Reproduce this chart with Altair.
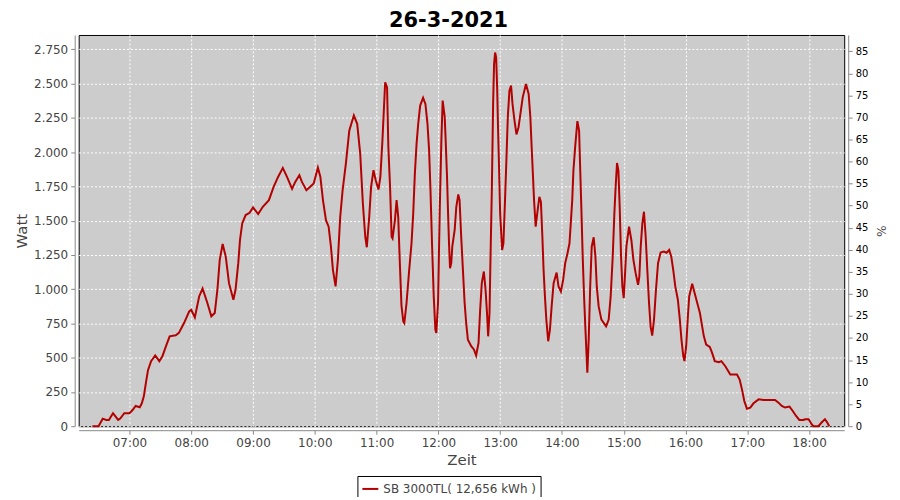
import altair as alt
import pandas as pd

series_name = "SB 3000TL( 12,656 kWh )"
chart_title = "26-3-2021"

times = [
    "06:24:00", "06:30:00", "06:34:00", "06:37:30", "06:40:00", "06:44:00", "06:46:00", "06:49:00",
    "06:51:00", "06:55:00", "07:00:00", "07:03:00", "07:06:00", "07:10:00", "07:12:00", "07:14:00",
    "07:16:00", "07:18:00", "07:21:00", "07:25:00", "07:29:00", "07:32:00", "07:35:30", "07:39:00",
    "07:45:00", "07:48:00", "07:53:00", "07:58:00", "08:00:00", "08:03:30", "08:07:40", "08:11:00",
    "08:15:40", "08:19:30", "08:22:50", "08:25:25", "08:27:40", "08:30:30", "08:33:30", "08:36:40",
    "08:40:55", "08:43:00", "08:45:40", "08:47:20", "08:49:30", "08:52:50", "08:56:40", "09:00:00",
    "09:05:00", "09:09:30", "09:15:25", "09:20:00", "09:24:20", "09:28:55", "09:33:00", "09:37:55",
    "09:41:00", "09:45:00", "09:47:30", "09:51:50", "09:55:35", "09:58:55", "10:03:00", "10:05:25",
    "10:07:55", "10:10:50", "10:13:25", "10:15:40", "10:17:35", "10:20:10", "10:22:25", "10:24:40",
    "10:27:00", "10:30:10", "10:33:30", "10:37:55", "10:41:10", "10:44:05", "10:46:40", "10:49:00",
    "10:50:30", "10:52:50", "10:54:40", "10:57:00", "10:59:10", "11:01:50", "11:03:40", "11:05:40",
    "11:07:20", "11:08:20", "11:10:10", "11:11:25", "11:13:05", "11:14:35", "11:15:30", "11:17:50",
    "11:19:25", "11:21:00", "11:22:35", "11:24:10", "11:25:55", "11:26:55", "11:29:05", "11:31:40",
    "11:33:55", "11:35:35", "11:37:10", "11:38:50", "11:40:25", "11:42:20", "11:45:10", "11:47:25",
    "11:49:25", "11:51:00", "11:52:20", "11:53:55", "11:55:30", "11:57:05", "11:58:00", "11:59:40",
    "12:01:20", "12:02:55", "12:04:10", "12:06:10", "12:07:05", "12:08:25", "12:09:25", "12:10:20",
    "12:11:20", "12:12:30", "12:13:30", "12:15:50", "12:17:25", "12:19:20", "12:20:35", "12:22:10",
    "12:23:50", "12:25:30", "12:27:00", "12:28:40", "12:31:55", "12:34:30", "12:36:40", "12:39:00",
    "12:40:35", "12:42:10", "12:44:10", "12:45:50", "12:47:25", "12:48:20", "12:49:40", "12:50:35",
    "12:51:55", "12:53:10", "12:54:05", "12:55:05", "12:56:05", "12:57:05", "12:58:00", "12:59:00",
    "13:00:00", "13:01:55", "13:03:10", "13:04:50", "13:06:10", "13:07:25", "13:09:00", "13:10:35",
    "13:12:00", "13:13:55", "13:15:50", "13:17:50", "13:19:40", "13:21:55", "13:25:05", "13:27:40",
    "13:29:20", "13:30:35", "13:31:55", "13:32:55", "13:34:30", "13:36:25", "13:38:05", "13:39:35",
    "13:41:00", "13:42:10", "13:43:30", "13:44:50", "13:46:40", "13:48:20", "13:50:00", "13:51:55",
    "13:54:50", "13:56:40", "13:59:00", "14:01:10", "14:03:10", "14:05:25", "14:07:20", "14:08:35",
    "14:10:00", "14:11:10", "14:12:50", "14:15:00", "14:16:40", "14:17:35", "14:18:55", "14:20:10",
    "14:21:30", "14:22:50", "14:24:40", "14:26:00", "14:27:20", "14:28:55", "14:30:50", "14:32:30",
    "14:33:50", "14:35:40", "14:38:20", "14:42:55", "14:45:25", "14:47:20", "14:49:20", "14:50:55",
    "14:52:10", "14:53:30", "14:54:50", "14:56:05", "14:57:25", "14:58:40", "15:00:00", "15:01:20",
    "15:02:35", "15:05:10", "15:07:25", "15:09:25", "15:11:35", "15:13:55", "15:15:10", "15:16:30",
    "15:18:05", "15:19:40", "15:21:20", "15:22:55", "15:24:35", "15:26:05", "15:27:40", "15:29:25",
    "15:31:20", "15:33:20", "15:35:50", "15:39:00", "15:41:35", "15:44:10", "15:46:10", "15:48:05",
    "15:50:05", "15:52:35", "15:54:30", "15:56:05", "15:57:50", "15:59:00", "16:00:40", "16:02:20",
    "16:03:35", "16:06:30", "16:08:50", "16:11:25", "16:14:00", "16:16:10", "16:17:50", "16:20:05",
    "16:23:35", "16:25:50", "16:28:25", "16:32:20", "16:34:50", "16:38:40", "16:43:30", "16:50:00",
    "16:52:35", "16:54:50", "16:57:05", "16:59:40", "17:02:55", "17:06:05", "17:11:00", "17:15:50",
    "17:27:00", "17:30:20", "17:33:30", "17:36:40", "17:41:00", "17:44:10", "17:47:25", "17:50:35",
    "17:54:30", "17:56:05", "17:59:35", "18:02:30", "18:04:05", "18:09:00", "18:12:10", "18:15:25",
    "18:17:40", "18:19:35",
]

watts = [
    0, 0, 55, 46, 46, 95, 75, 46,
    56, 95, 95, 118, 148, 138, 167, 220,
    318, 409, 475, 516, 475, 511, 584, 656,
    664, 681, 753, 838, 850, 794, 947, 1005,
    899, 802, 826, 996, 1214, 1330, 1238, 1044,
    923, 996, 1190, 1359, 1480, 1541, 1557, 1597,
    1548, 1601, 1650, 1747, 1819, 1885, 1819, 1732,
    1783, 1831, 1783, 1722, 1747, 1771, 1887, 1819,
    1650, 1504, 1456, 1310, 1141, 1020, 1214, 1528,
    1722, 1916, 2158, 2267, 2207, 1989, 1626, 1383,
    1306, 1528, 1747, 1868, 1795, 1727, 1819, 2086,
    2352, 2510, 2473, 2037, 1747, 1383, 1371, 1504,
    1650, 1528, 1190, 880, 765, 753, 899, 1141,
    1335, 1553, 1844, 2062, 2207, 2340, 2396, 2352,
    2207, 2013, 1722, 1310, 947, 705, 681, 899,
    1577, 2086, 2376, 2255, 2086, 1819, 1553, 1335,
    1153, 1190, 1310, 1432, 1601, 1691, 1650, 1383,
    1141, 899, 753, 632, 584, 560, 516, 608,
    850, 1044, 1129, 996, 802, 656, 826, 1214,
    1722, 2352, 2643, 2727, 2691, 2473, 2158, 1868,
    1553, 1286, 1335, 1674, 1964, 2255, 2449, 2485,
    2352, 2231, 2129, 2182, 2280, 2400, 2497, 2425,
    2255, 2037, 1819, 1650, 1456, 1577, 1674, 1637,
    1383, 1141, 947, 778, 620, 705, 874, 1044,
    1121, 1020, 983, 1068, 1190, 1262, 1335, 1480,
    1650, 1868, 2037, 2226, 2158, 1916, 1577, 1238,
    947, 705, 390, 632, 996, 1310, 1379, 1238,
    1020, 874, 778, 729, 778, 947, 1238, 1553,
    1747, 1921, 1868, 1601, 1238, 1020, 935, 1117,
    1310, 1456, 1359, 1214, 1117, 1032, 1092, 1310,
    1480, 1565, 1383, 1141, 899, 729, 661, 778,
    996, 1190, 1268, 1274, 1266, 1286, 1238, 1141,
    1020, 923, 778, 632, 511, 475, 584, 802,
    947, 1039, 972, 899, 826, 729, 656, 596,
    579, 535, 475, 467, 475, 438, 378, 378,
    341, 269, 184, 128, 136, 167, 196, 191,
    191, 172, 148, 136, 143, 111, 75, 46,
    46, 51, 51, 15, 0, 0, 27, 51,
    27, 0,
]

watt_ticks = [0, 250, 500, 750, 1000, 1250, 1500, 1750, 2000, 2250, 2500, 2750]
pct_ticks = [0, 5, 10, 15, 20, 25, 30, 35, 40, 45, 50, 55, 60, 65, 70, 75, 80, 85]
hour_ticks = [7, 8, 9, 10, 11, 12, 13, 14, 15, 16, 17, 18]


def to_hours(s):
    h, m, sec = (int(v) for v in s.split(":"))
    return h + m / 60 + sec / 3600


df = pd.DataFrame({
    "hour": [to_hours(t) for t in times],
    "watt": watts,
    "series": [series_name] * len(times),
})
pct_df = pd.DataFrame({"pct": pct_ticks})

FONT = "DejaVu Sans"
LINE_RED = "#b40000"

x_enc = alt.X(
    "hour:Q",
    scale=alt.Scale(domain=[6.178, 18.569], nice=False, zero=False),
    axis=alt.Axis(
        values=hour_ticks,
        labelExpr="(datum.value < 10 ? '0' : '') + datum.value + ':00'",
        title="Zeit",
        grid=True,
        offset=4,
    ),
)

line = alt.Chart(df).mark_line(strokeWidth=2, interpolate="linear").encode(
    x=x_enc,
    y=alt.Y(
        "watt:Q",
        scale=alt.Scale(domain=[0, 2855], nice=False),
        axis=alt.Axis(
            values=watt_ticks,
            labelExpr="replace(format(datum.value, ','), ',', '.')",
            title="Watt",
            grid=True,
            offset=4,
        ),
    ),
    color=alt.Color(
        "series:N",
        scale=alt.Scale(range=[LINE_RED]),
        legend=alt.Legend(
            title=None,
            orient="none",
            legendX=280,
            legendY=443,
            direction="horizontal",
            strokeColor="black",
            fillColor="white",
            padding=4,
            symbolType="stroke",
            symbolStrokeWidth=2,
            symbolSize=256,
            labelFontSize=12,
            labelFont=FONT,
            labelColor="#444444",
        ),
    ),
)

right = alt.Chart(pct_df).mark_point(opacity=0).encode(
    y=alt.Y(
        "pct:Q",
        scale=alt.Scale(domain=[0, 88.7], nice=False),
        axis=alt.Axis(
            orient="right",
            values=pct_ticks,
            title="%",
            grid=False,
            offset=4,
            labelColor="black",
            labelFontSize=10,
            titleFontSize=12,
            titlePadding=6,
        ),
    ),
)

chart = (
    alt.layer(line, right)
    .resolve_scale(y="independent")
    .properties(
        width=769,
        height=393,
        autosize=alt.AutoSizeParams(type="none"),
        padding={"left": 71, "top": 26, "right": 48, "bottom": 70},
        background="white",
        title=alt.TitleParams(
            chart_title,
            font=FONT,
            fontSize=21,
            fontWeight="bold",
            color="black",
            anchor="middle",
            dx=-13,
            offset=4,
        ),
    )
    .configure_view(fill="#cccccc", stroke="black", strokeWidth=1)
    .configure_axis(
        labelFont=FONT,
        titleFont=FONT,
        labelFontSize=12,
        labelColor="#444444",
        titleColor="#444444",
        titleFontSize=15,
        titleFontWeight="normal",
        domainColor="#888888",
        tickColor="#888888",
        tickSize=4,
        labelPadding=3,
        gridColor="white",
        gridDash=[2, 2],
        gridWidth=1,
        gridOpacity=1,
    )
)

chart.save("out.html", embed_options={"renderer": "svg", "actions": False})
